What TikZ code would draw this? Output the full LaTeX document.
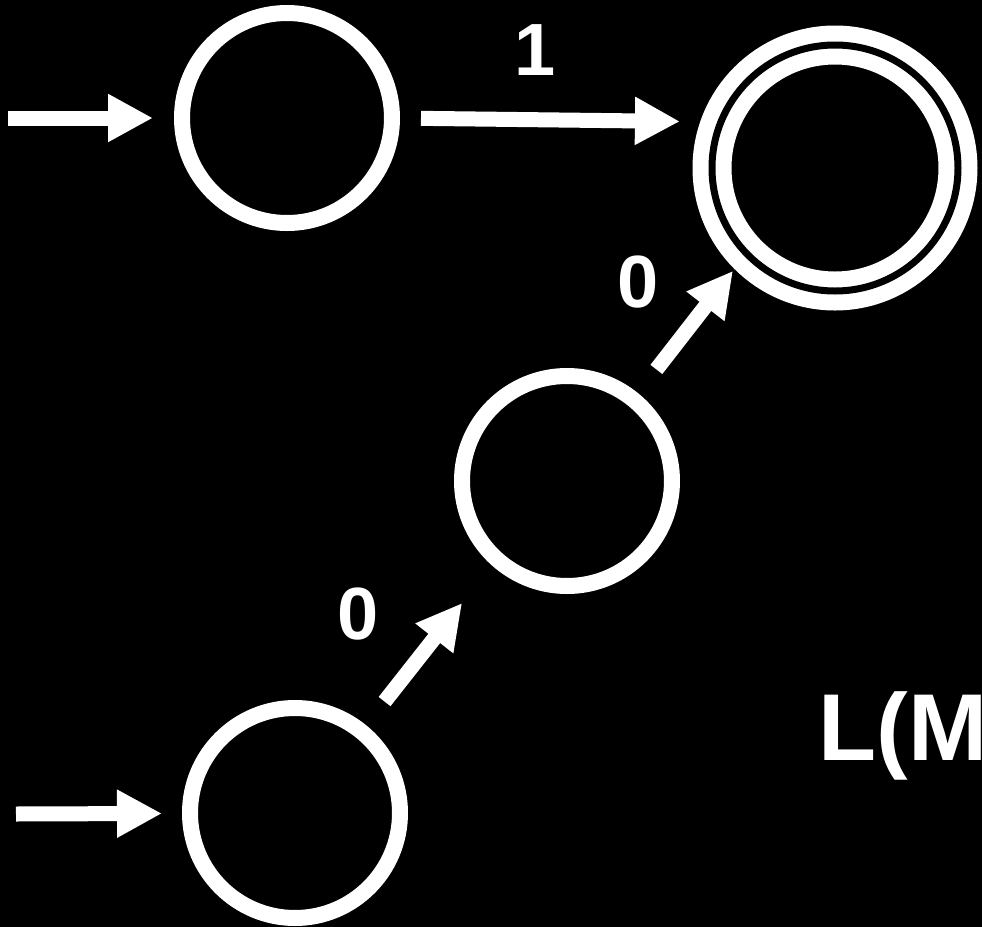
\documentclass[tikz,border=0pt]{standalone}
\usepackage{fontspec}
\setmainfont{Liberation Sans}
\usetikzlibrary{arrows.meta}

\begin{document}
\begin{tikzpicture}[x=0.5pt,y=-0.5pt,
  state/.style={draw=white,circle,line width=8pt,minimum size=105pt,inner sep=0pt,outer sep=0pt},
  acc/.style={state,double=black,double distance=3.5pt,minimum size=123pt},
  trans/.style={draw=white,line width=7.5pt,-{Triangle[length=22.5pt,width=22.5pt]}},
  sym/.style={text=white,inner sep=0pt,font=\bfseries\fontsize{37}{37}\selectfont}]
\useasboundingbox (0,0) rectangle (982,927);
\fill[black] (0,0) rectangle (982,927);
\node[state] (top) at (287,118) {};
\node[state] (mid) at (567,481) {};
\node[state] (bot) at (295,813) {};
\node[acc] (fin) at (835,168) {};
\coordinate (in1) at (8,118);
\coordinate (in2) at (16,814);
\draw[trans,shorten >=14.5pt] (in1) -- (top);
\draw[trans,shorten >=14pt] (in2) -- (bot);
\draw[trans,shorten <=14.5pt,shorten >=20.5pt] (top.east) -- (fin.158);
\draw[trans,shorten <=19pt,shorten >=28pt] (bot.51) -- (mid.228);
\draw[trans,shorten <=19pt,shorten >=11pt] (mid.51) -- (fin.224);
\node[sym] (one) at (535,50) {1};
\node[sym] (zeroa) at (638,282) {0};
\node[sym] (zerob) at (358,614) {0};
\node[text=white,inner sep=0pt,anchor=base west,font=\bfseries\fontsize{47.5}{47.5}\selectfont] (lang) at (818,760) {L(M};
\end{tikzpicture}
\end{document}
